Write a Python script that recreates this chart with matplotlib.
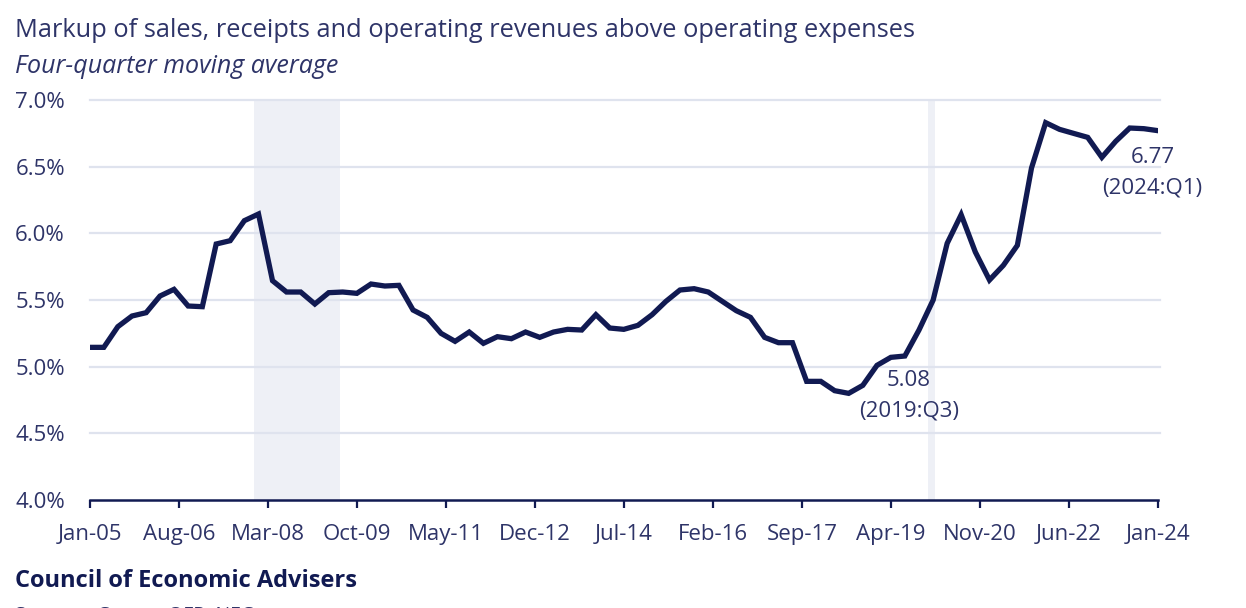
import matplotlib
matplotlib.use("Agg")
import matplotlib.pyplot as plt
import pandas as pd

plt.rcParams['font.family'] = ['Open Sans', 'DejaVu Sans']

# Quarterly data, 2005:Q1 .. 2024:Q1 (four-quarter moving average, %)
start_quarter = "2005-01-01"
markup = [5.145, 5.145, 5.30, 5.38, 5.405, 5.53, 5.58, 5.455, 5.45, 5.92,
          5.945, 6.095, 6.145, 5.645, 5.56, 5.56, 5.47, 5.555, 5.56, 5.55,
          5.62, 5.605, 5.61, 5.425, 5.37, 5.25, 5.19, 5.26, 5.175, 5.225,
          5.21, 5.26, 5.22, 5.26, 5.28, 5.275, 5.39, 5.29, 5.28, 5.31,
          5.39, 5.49, 5.575, 5.585, 5.56, 5.49, 5.42, 5.37, 5.22, 5.18,
          5.18, 4.89, 4.89, 4.82, 4.80, 4.86, 5.01, 5.07, 5.08, 5.275,
          5.50, 5.925, 6.14, 5.86, 5.65, 5.76, 5.91, 6.49, 6.83, 6.78,
          6.75, 6.72, 6.57, 6.69, 6.79, 6.785, 6.77]

tick_labels = ["Jan-05", "Aug-06", "Mar-08", "Oct-09", "May-11", "Dec-12", "Jul-14",
               "Feb-16", "Sep-17", "Apr-19", "Nov-20", "Jun-22", "Jan-24"]
y_ticks = [4.0, 4.5, 5.0, 5.5, 6.0, 6.5, 7.0]
shaded_periods = [("2007-12-01", "2009-06-15"), ("2019-12-01", "2020-01-15")]
annotations = [("2019-07-01", 5.08, "5.08\n(2019:Q3)"), ("2024-01-01", 6.77, "6.77\n(2024:Q1)")]

dates = pd.date_range(start_quarter, periods=len(markup), freq="QS")
tick_dates = [pd.to_datetime(l, format="%b-%y") for l in tick_labels]

navy = "#111a52"
text_c = "#2e3468"
grid_c = "#dfe3ee"
shade_c = "#eef0f6"

fig = plt.figure(figsize=(12.46, 6.08), dpi=100)
ax = fig.add_axes([0.0722, 0.1776, 0.8572, 0.6579])

for s, e in shaded_periods:
    ax.axvspan(pd.Timestamp(s), pd.Timestamp(e), color=shade_c, lw=0, zorder=0)

for y in y_ticks[1:]:
    ax.axhline(y, color=grid_c, lw=1.6, zorder=1, xmax=1.002, clip_on=False)

ax.plot(dates, markup, color=navy, lw=3.8, solid_joinstyle="miter", zorder=3)

ax.set_ylim(4.0, 7.0)
ax.set_xlim(tick_dates[0], tick_dates[-1])
ax.set_yticks(y_ticks)
ax.set_yticklabels([f"{v:.1f}%" for v in y_ticks])
ax.set_xticks(tick_dates)
ax.set_xticklabels(tick_labels)

for sp in ["top", "right", "left"]:
    ax.spines[sp].set_visible(False)
ax.spines["bottom"].set_color(navy)
ax.spines["bottom"].set_linewidth(1.8)
ax.tick_params(axis="x", direction="out", length=6, width=1.6, color=navy,
               labelsize=16, labelcolor=text_c, pad=11)
ax.tick_params(axis="y", length=0, labelsize=16, labelcolor=text_c, pad=18)

# Annotations
d0, v0, t0 = annotations[0]
ax.annotate(t0, xy=(pd.Timestamp(d0), v0), xytext=(3, -10), textcoords="offset points",
            ha="center", va="top", fontsize=16, color=text_c, linespacing=1.6)
d1, v1, t1 = annotations[1]
ax.annotate(t1, xy=(pd.Timestamp(d1), v1), xytext=(-4, -12), textcoords="offset points",
            ha="center", va="top", fontsize=16, color=text_c, linespacing=1.6)

fig.text(0.012, 0.95, "Markup of sales, receipts and operating revenues above operating expenses",
         fontsize=18.3, color=text_c, ha="left", va="center")
fig.text(0.012, 0.89, "Four-quarter moving average", fontsize=18, style="italic",
         color=text_c, ha="left", va="center")
fig.text(0.012, 0.045, "Council of Economic Advisers", fontsize=17, fontweight="bold",
         color=navy, ha="left", va="center")
fig.text(0.012, -0.012, "Sources: Census QFR; NEC", fontsize=14, color=text_c,
         ha="left", va="center")

fig.savefig("out.png", dpi=100)
